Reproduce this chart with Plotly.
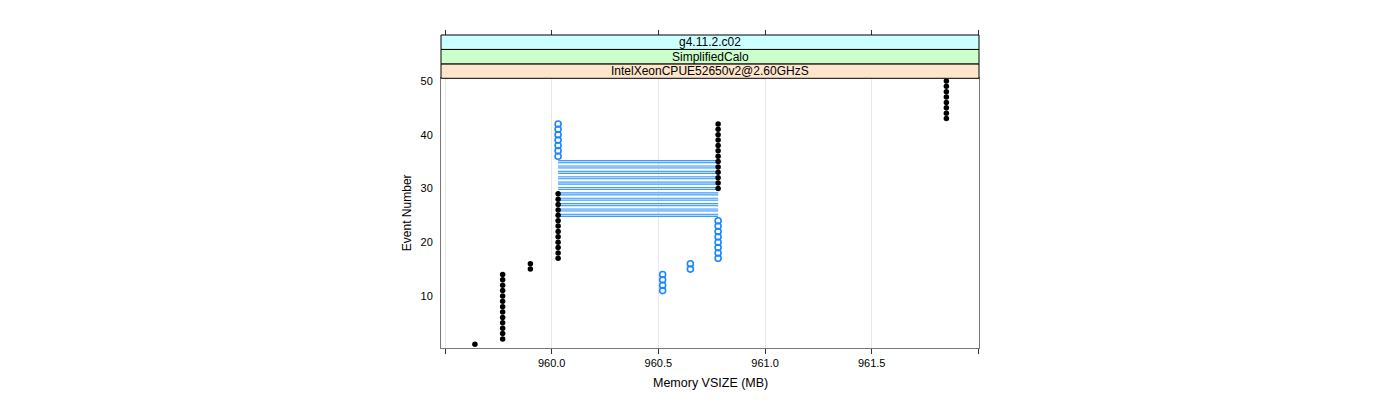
import plotly.graph_objects as go

# ---- data ----
black_events = list(range(1, 51))
black_vsize = [959.64,
               959.77, 959.77, 959.77, 959.77, 959.77, 959.77, 959.77,
               959.77, 959.77, 959.77, 959.77, 959.77, 959.77,
               959.90, 959.90,
               960.03, 960.03, 960.03, 960.03, 960.03, 960.03, 960.03,
               960.03, 960.03, 960.03, 960.03, 960.03, 960.03,
               960.78, 960.78, 960.78, 960.78, 960.78, 960.78, 960.78,
               960.78, 960.78, 960.78, 960.78, 960.78, 960.78,
               961.85, 961.85, 961.85, 961.85, 961.85, 961.85, 961.85, 961.85]

blue_events = [11, 12, 13, 14, 15, 16, 17, 18, 19, 20, 21, 22, 23, 24,
               36, 37, 38, 39, 40, 41, 42]
blue_vsize = [960.52, 960.52, 960.52, 960.52, 960.65, 960.65,
              960.78, 960.78, 960.78, 960.78, 960.78, 960.78, 960.78, 960.78,
              960.03, 960.03, 960.03, 960.03, 960.03, 960.03, 960.03]

band_events = [25, 26, 27, 28, 29, 30, 31, 32, 33, 34, 35]
band_low = [960.03] * 11
band_high = [960.78] * 11

strip_labels = ["IntelXeonCPUE52650v2@2.60GHzS", "SimplifiedCalo", "g4.11.2.c02"]
strip_colors = ["#ffe5cc", "#ccffcc", "#ccffff"]

x_tickvals = [959.5, 960.0, 960.5, 961.0, 961.5, 962.0]
x_ticktext = ["", "960.0", "960.5", "961.0", "961.5", ""]
y_tickvals = [10, 20, 30, 40, 50]

FONT = "Liberation Sans, Arial, Helvetica, sans-serif"

# build band segments
bx, by = [], []
for e, lo, hi in zip(band_events, band_low, band_high):
    bx += [lo, hi, None]
    by += [e, e, None]

fig = go.Figure()
fig.add_trace(go.Scatter(x=bx, y=by, mode="lines",
                         line=dict(color="#3f9bff", width=3.2),
                         hoverinfo="skip", showlegend=False))
fig.add_trace(go.Scatter(x=bx, y=by, mode="lines",
                         line=dict(color="#cfe6ff", width=1),
                         hoverinfo="skip", showlegend=False))
fig.add_trace(go.Scatter(x=blue_vsize, y=blue_events, mode="markers",
                         marker=dict(symbol="circle-open", size=6, color="#1a86ff",
                                     line=dict(width=1.6)),
                         showlegend=False))
fig.add_trace(go.Scatter(x=black_vsize, y=black_events, mode="markers",
                         marker=dict(symbol="circle", size=5.5, color="black"),
                         showlegend=False))
# helper trace for top tick axis
fig.add_trace(go.Scatter(x=[None], y=[None], xaxis="x2", showlegend=False))

# page geometry (the html body adds an 8px offset)
OFF = 8
W, H = 1392, 392
panel_l, panel_r = 441, 979
strip_top, panel_top, panel_b = 35, 78.3, 348
ML = panel_l - OFF
MR = W - (panel_r - OFF)
MT = strip_top - OFF
MB = H - (panel_b - OFF)
plot_w = W - ML - MR
plot_h = H - MT - MB
y_dom_top = (panel_b - panel_top) / plot_h

def px_to_paper_x(px):
    return (px - panel_l) / plot_w

def px_to_paper_y(py):
    return (panel_b - py) / plot_h

xr = [959.481, 962.003]
fig.update_layout(
    width=W, height=H,
    margin=dict(l=ML, r=MR, t=MT, b=MB, pad=0),
    paper_bgcolor="white", plot_bgcolor="white",
    font=dict(family=FONT, size=11, color="black"),
    xaxis=dict(range=xr, tickvals=x_tickvals, ticktext=x_ticktext,
               ticks="outside", ticklen=5, tickcolor="#333", tickwidth=1,
               showgrid=True, gridcolor="#e8e8e8", gridwidth=1,
               showline=True, linecolor="#777", linewidth=1, mirror=True,
               zeroline=False, tickfont=dict(size=11)),
    xaxis2=dict(range=xr, overlaying="x", side="top", anchor="free", position=1,
                tickvals=x_tickvals, showticklabels=False,
                ticks="outside", ticklen=5, tickcolor="#333", tickwidth=1,
                showgrid=False, showline=False, zeroline=False),
    yaxis=dict(range=[0.32, 50.5], domain=[0, y_dom_top], tickvals=y_tickvals,
               ticks="outside", ticklen=5, tickcolor="rgba(0,0,0,0)",
               showgrid=False, showline=True, linecolor="#777", linewidth=1,
               mirror=True, zeroline=False, tickfont=dict(size=11)),
)

# strips
strip_h = (1 - y_dom_top) / 3
for i, (lab, col) in enumerate(zip(strip_labels, strip_colors)):
    y0 = y_dom_top + i * strip_h
    y1 = y0 + strip_h
    fig.add_shape(type="rect", xref="paper", yref="paper", x0=0, x1=1, y0=y0, y1=y1,
                  fillcolor=col, line=dict(color="black", width=1), layer="above")
    fig.add_annotation(x=0.5, y=(y0 + y1) / 2, xref="paper", yref="paper",
                       text=lab, showarrow=False, xanchor="center", yanchor="middle",
                       font=dict(family=FONT, size=12, color="black"))

# axis titles
fig.add_annotation(x=0.5, y=px_to_paper_y(383), xref="paper", yref="paper",
                   text="Memory VSIZE (MB)", showarrow=False,
                   xanchor="center", yanchor="middle",
                   font=dict(family=FONT, size=12.5, color="black"))
fig.add_annotation(x=px_to_paper_x(407), y=y_dom_top / 2, xref="paper", yref="paper",
                   text="Event Number", showarrow=False, textangle=-90,
                   xanchor="center", yanchor="middle",
                   font=dict(family=FONT, size=12, color="black"))

fig.write_html("out.html")
